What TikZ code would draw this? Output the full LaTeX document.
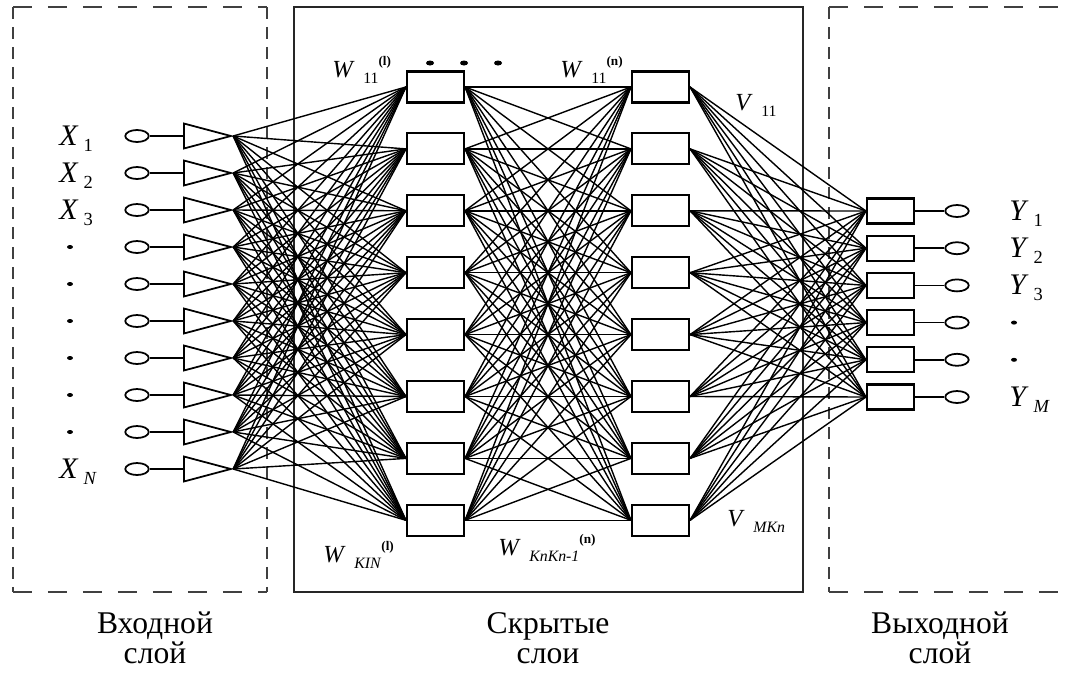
\documentclass[tikz,border=0pt]{standalone}
\usepackage{fontspec}
\setmainfont{Liberation Serif}
\usetikzlibrary{shapes.geometric}

% signal label: letter with a lowered index
\newcommand{\sgl}[2]{\textit{#1}\,\raisebox{-0.5ex}{\fontsize{10.5}{10.5}\selectfont #2}}
% weight label: letter, index and layer number
\newcommand{\wgt}[3]{\textit{#1}\hspace{0.35em}\raisebox{-0.55ex}{\fontsize{9}{9}\selectfont #2}\raisebox{1.0ex}{\fontsize{7.5}{7.5}\selectfont\bfseries #3}}

\begin{document}
\begin{tikzpicture}[
    x=0.02cm, y=-0.02cm,
    frame/.style={line width=1.2pt, black!85},
    hdash/.style={line width=1.2pt, black!75, dash pattern=on 0.38cm off 0.32cm},
    vdash/.style={line width=1.2pt, black!75, dash pattern=on 0.24cm off 0.16cm},
    neuron/.style={rectangle, draw, line width=1.2pt, fill=white, minimum width=1.14cm, minimum height=0.62cm, inner sep=0pt},
    outbox/.style={rectangle, draw, line width=1.2pt, fill=white, minimum width=0.94cm, minimum height=0.5cm, inner sep=0pt},
    term/.style={ellipse, draw, line width=1pt, minimum width=0.47cm, minimum height=0.24cm, inner sep=0pt},
    amp/.style={isosceles triangle, isosceles triangle stretches, draw, line width=1pt, minimum width=0.5cm, minimum height=0.94cm, inner sep=0pt, shape border rotate=0, anchor=lower side},
    dot/.style={ellipse, fill, minimum width=0.12cm, minimum height=0.08cm, inner sep=0pt},
    wire/.style={line width=0.8pt},
    sig/.style={font=\fontsize{17}{18}\selectfont, anchor=base west, inner sep=0pt},
    wlab/.style={font=\fontsize{14}{15}\selectfont, anchor=base west, inner sep=0pt},
    layercap/.style={font=\fontsize{18}{17}\selectfont, align=center},
]
\useasboundingbox (0,0) rectangle (1069,673);

% --- Frames ---
\draw[frame] (294,7) rectangle (803,592);
\draw[hdash] (13,7) -- (267,7);
\draw[hdash] (13,592) -- (267,592);
\draw[vdash] (13,7) -- (13,592);
\draw[vdash] (267,7) -- (267,592);
\draw[hdash] (829,7) -- (1069,7);
\draw[hdash] (829,592) -- (1069,592);
\draw[vdash] (829,7) -- (829,592);

% --- Input layer ---
\foreach \i in {1,...,10} {
    \node[term] (xin\i) at (137,{136+37*(\i-1)}) {};
    \node[amp] (amp\i) at (183,{136+37*(\i-1)}) {};
    \draw[wire, line width=1pt] (xin\i) -- (amp\i.lower side);
}
\node[sig] (lx1) at (59,145) {\sgl{X}{1}};
\node[sig] (lx2) at (59,182) {\sgl{X}{2}};
\node[sig] (lx3) at (59,219) {\sgl{X}{3}};
\foreach \i in {4,...,9}
    \node[dot] (dx\i) at (70,{136+37*(\i-1)}) {};
\node[sig] (lxn) at (59,478) {\sgl{X}{\textit{N}}};

% --- Hidden layers ---
\foreach \k in {1,...,8} {
    \node[neuron] (ha\k) at (435.5,{87+61.9*(\k-1)}) {};
    \node[neuron] (hb\k) at (660.5,{87+61.9*(\k-1)}) {};
}
\node[dot, minimum width=0.16cm, minimum height=0.1cm] (dt1) at (430,63) {};
\node[dot, minimum width=0.16cm, minimum height=0.1cm] (dt2) at (464,63) {};
\node[dot, minimum width=0.16cm, minimum height=0.1cm] (dt3) at (498,63) {};

% --- Output layer ---
\foreach \j in {1,...,6} {
    \node[outbox] (yo\j) at (890.5,{211+37.2*(\j-1)}) {};
    \node[term] (yout\j) at (957,{211+37.2*(\j-1)}) {};
    \draw[wire, line width=1pt] (yo\j) -- (yout\j);
}
\node[sig] (ly1) at (1009,220) {\sgl{Y}{1}};
\node[sig] (ly2) at (1009,257) {\sgl{Y}{2}};
\node[sig] (ly3) at (1009,294) {\sgl{Y}{3}};
\node[dot] (dy4) at (1014,322.6) {};
\node[dot] (dy5) at (1014,359.8) {};
\node[sig] (lym) at (1009,406) {\sgl{Y}{\textit{M}}};

% --- Connections ---
\foreach \i in {1,...,10}
    \foreach \k in {1,...,8}
        \draw[wire] (amp\i.apex) -- (ha\k.west);
\foreach \k in {1,...,8}
    \foreach \m in {1,...,8}
        \draw[wire] (ha\k.east) -- (hb\m.west);
\foreach \m in {1,...,8}
    \foreach \j in {1,...,6}
        \draw[wire] (hb\m.east) -- (yo\j.west);

% --- Weight labels ---
\node[wlab] (w1) at (332,77) {\wgt{W}{11}{(l)}};
\node[wlab] (wn) at (560,77) {\wgt{W}{11}{(n)}};
\node[wlab] (v1) at (735,110) {\wgt{V}{11}{}};
\node[wlab] (wk) at (323,562) {\wgt{W}{\textit{KIN}}{(l)}};
\node[wlab] (wkn) at (498,555) {\wgt{W}{\textit{KnKn-1}}{(n)}};
\node[wlab] (vm) at (727,526) {\wgt{V}{\textit{MKn}}{}};

% --- Captions ---
\node[layercap] (cin) at (155,638) {Входной\\слой};
\node[layercap] (chid) at (548,638) {Скрытые\\слои};
\node[layercap] (cout) at (940,638) {Выходной\\слой};

\end{tikzpicture}
\end{document}
